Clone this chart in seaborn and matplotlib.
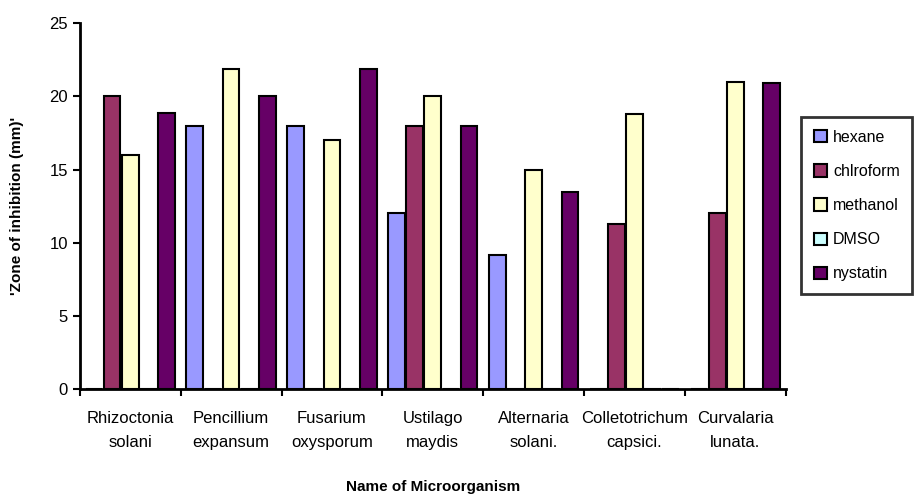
import pandas as pd
import numpy as np
import matplotlib.pyplot as plt
import seaborn as sns

organisms = ["Rhizoctonia\nsolani", "Pencillium\nexpansum", "Fusarium\noxysporum",
             "Ustilago\nmaydis", "Alternaria\nsolani.", "Colletotrichum\ncapsici.",
             "Curvalaria\nlunata."]
solvents = ["hexane", "chlroform", "methanol", "DMSO", "nystatin"]

hexane = [0, 18, 18, 12, 9.15, 0, 0]
chloroform = [20, 0, 0, 18, 0, 11.3, 12]
methanol = [16, 21.9, 17, 20, 15, 18.8, 21]
dmso = [0, 0, 0, 0, 0, 0, 0]
nystatin = [18.9, 20, 21.9, 18, 13.5, 0, 20.9]

colors = ["#9999FF", "#993366", "#FFFFCC", "#CCFFFF", "#660066"]

df = pd.DataFrame({
    "Organism": organisms * 5,
    "Solvent": np.repeat(solvents, len(organisms)),
    "Zone": hexane + chloroform + methanol + dmso + nystatin,
})

sns.set_style("white")
plt.rcParams["font.family"] = ["Liberation Sans", "DejaVu Sans"]
plt.rcParams["text.color"] = "black"
plt.rcParams["xtick.color"] = "black"
plt.rcParams["ytick.color"] = "black"
plt.rcParams["axes.labelcolor"] = "black"

fig = plt.figure(figsize=(9.18, 4.95), dpi=100)
ax = fig.add_axes([0.087, 0.214, 0.769, 0.739])

sns.barplot(data=df, x="Organism", y="Zone", hue="Solvent", palette=colors,
            saturation=1, width=0.9, gap=0.08, edgecolor="black", linewidth=1.5, ax=ax)

ax.set_ylim(0, 25)
ax.set_xlim(-0.5, len(organisms) - 0.5)
ax.set_yticks([0, 5, 10, 15, 20, 25])
ax.tick_params(axis="y", labelsize=12, length=5, width=1.5, direction="out", left=True)
ax.tick_params(axis="x", which="major", labelsize=12, length=0, pad=16)
for lab in ax.get_xticklabels():
    lab.set_linespacing(1.7)
ax.set_xticks(np.arange(-0.5, len(organisms), 1), minor=True)
ax.tick_params(axis="x", which="minor", length=5, width=1.5, direction="out", bottom=True)

for s in ["top", "right"]:
    ax.spines[s].set_visible(False)
for s in ["left", "bottom"]:
    ax.spines[s].set_linewidth(2)
    ax.spines[s].set_color("black")

ax.set_ylabel("'Zone of inhibition (mm)'", fontsize=11, fontweight="bold", labelpad=18)
ax.set_xlabel("Name of Microorganism", fontsize=11, fontweight="bold", labelpad=22)

ax.legend(loc="upper left", bbox_to_anchor=(801 / 918, 1 - 117 / 495),
          bbox_transform=fig.transFigure, borderaxespad=0, frameon=True, fancybox=False,
          edgecolor="black", fontsize=11.5, labelspacing=1.2, handlelength=0.8,
          handleheight=0.8, handletextpad=0.4, borderpad=0.8)
ax.get_legend().get_frame().set_linewidth(2)

plt.savefig("out.png", dpi=100)
plt.close()
